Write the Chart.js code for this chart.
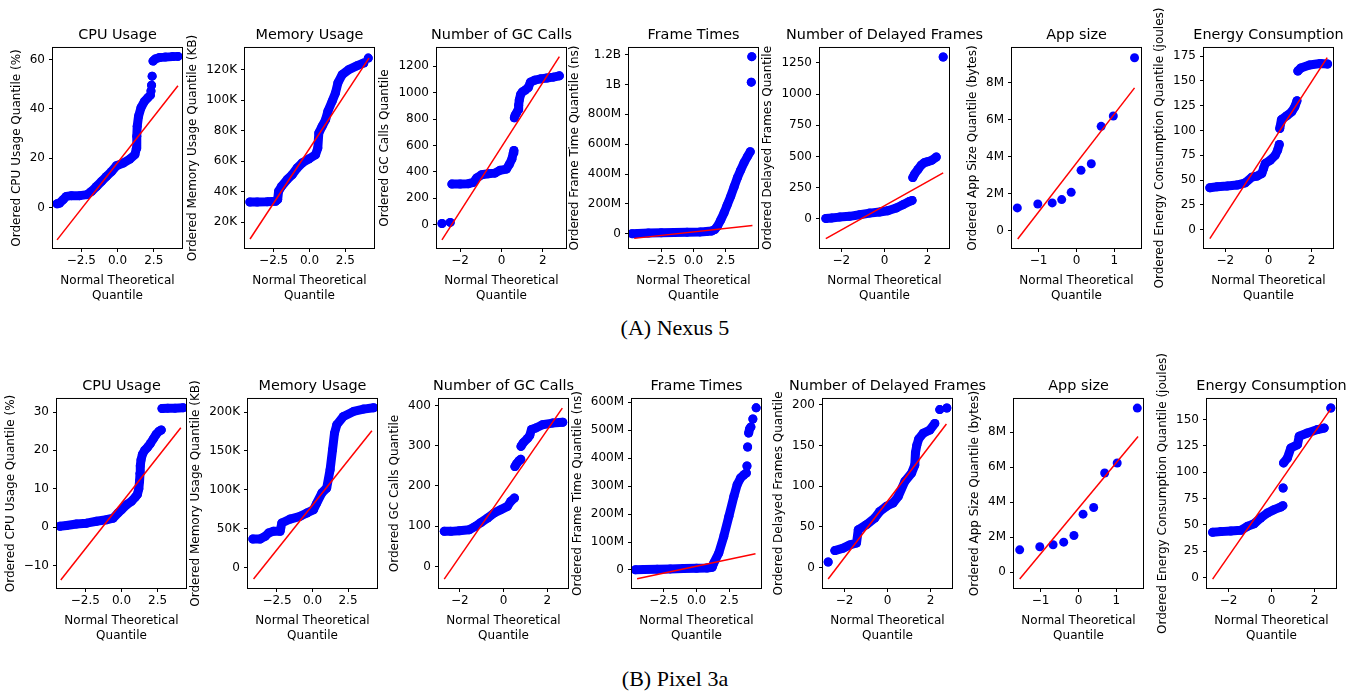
<!DOCTYPE html>
<html lang="en">
<head>
<meta charset="UTF-8">
<title>Q-Q plots: Nexus 5 and Pixel 3a</title>
<script src="https://cdn.jsdelivr.net/npm/chart.js"></script>
<style>
  html, body { margin: 0; padding: 0; background: #fff; }
  #page { position: relative; width: 1361px; height: 694px; overflow: hidden; }
  #page canvas { position: absolute; }
  .caption {
    position: absolute; left: 0; width: 1350px; text-align: center;
    font-family: "Liberation Serif", "DejaVu Serif", serif; font-size: 22px; line-height: 25px; color: #000;
  }
</style>
</head>
<body>
<div id="page">
  <div class="caption" style="top:315px">(A) Nexus 5</div>
  <div class="caption" style="top:666px">(B) Pixel 3a</div>
</div>
<script>
// theoretical quantile ticks
const qTicks25 = [-2.5, 0, 2.5];
const qLabels25 = ['\u22122.5', '0.0', '2.5'];
const qTicks2 = [-2, 0, 2];
const qLabels2 = ['\u22122', '0', '2'];
const qTicks1 = [-1, 0, 1];
const qLabels1 = ['\u22121', '0', '1'];

// ---------- (A) Nexus 5 ----------
const nexusCpuQ = [-4.17,-3.99,-3.76,-3.53,-3.18,-2.6,-2.1,-1.8,-1.45,-1.1,-0.76,-0.41,-0.07,0.39,0.85,1.2,1.3,1.33,1.36,1.45,1.62,1.85,2.1,2.27,null,2.31,null,2.35,null,2.39,null,2.45,2.6,2.9,3.3,3.8,4.17];
const nexusCpuV = [1.6,1.9,3.2,4.6,4.9,4.9,5.3,6.6,8.6,10.7,12.7,14.7,17,18.1,19.7,21.5,24,29,33,37,40.5,43,44.6,45.6,null,47.3,null,49.6,null,53.3,null,59.4,60.2,60.8,61,61.2,61.3];
const nexusCpuFitQ = [-4.17, 4.17];
const nexusCpuFitV = [-13.0, 49.4];
const nexusCpuTicks = [0, 20, 40, 60];
const nexusCpuLabels = ['0', '20', '40', '60'];

const nexusMemQ = [-4.16,-3.65,-2.95,-2.37,-2.22,-2.16,-1.95,-1.56,-1.21,-0.86,-0.51,-0.05,0.42,0.58,0.65,0.88,1.12,1.28,1.58,1.81,1.98,2.28,2.74,3.33,3.79,null,4.1];
const nexusMemV = [33300,33300,33500,33800,35000,40300,43600,48000,51200,55600,58900,61500,64300,68700,78500,82900,87200,92700,99300,104700,111300,116700,120000,122600,124400,null,127600];
const nexusMemFitQ = [-4.15, 4.15];
const nexusMemFitV = [9100, 127500];
const nexusMemTicks = [20000, 40000, 60000, 80000, 100000, 120000];
const nexusMemLabels = ['20K', '40K', '60K', '80K', '100K', '120K'];

const nexusGcQ = [-2.88,null,-2.48,null,-2.4,-2.0,-1.6,-1.36,-1.2,-0.96,-0.64,-0.32,-0.08,0.24,0.37,0.5,0.57,0.6,null,0.62,0.66,0.72,0.8,0.83,0.86,0.92,1.0,1.15,1.3,1.4,1.6,1.9,2.2,2.5,2.8];
const nexusGcV = [10,null,18,null,308,309,311,321,354,379,386,391,412,422,455,497,543,563,null,810,830,845,870,905,945,985,1005,1020,1040,1080,1095,1105,1112,1118,1128];
const nexusGcFitQ = [-2.88, 2.8];
const nexusGcFitV = [-114, 1273];
const nexusGcTicks = [0, 200, 400, 600, 800, 1000, 1200];
const nexusGcLabels = ['0', '200', '400', '600', '800', '1000', '1200'];

const nexusFrameQ = [-4.77,-4.3,-3.5,-2.5,-1.5,-0.5,0.5,1.0,1.4,1.65,1.86,2.1,2.37,2.6,2.89,3.15,3.4,3.65,3.92,4.2,4.4,null,4.48,null,4.52];
const nexusFrameV = [0,2e6,4e6,6e6,8e6,10e6,12e6,14e6,18e6,28e6,50e6,90e6,140e6,190e6,252e6,315e6,375e6,425e6,476e6,520e6,550e6,null,1016e6,null,1187e6];
const nexusFrameFitQ = [-4.6, 4.57];
const nexusFrameFitV = [-31.5e6, 55.6e6];
const nexusFrameTicks = [0, 2e8, 4e8, 6e8, 8e8, 1e9, 1.2e9];
const nexusFrameLabels = ['0', '200M', '400M', '600M', '800M', '1B', '1.2B'];

const nexusDelayedQ = [-2.72,-2.46,-2.08,-1.62,-1.15,-0.69,-0.23,0.15,0.54,0.85,1.15,1.28,null,1.31,1.4,1.55,1.7,1.85,2.0,2.2,2.4,null,2.72];
const nexusDelayedV = [2,5,13,19,32,45,54,64,86,112,139,147,null,330,360,395,430,450,458,470,495,null,1298];
const nexusDelayedFitQ = [-2.72, 2.72];
const nexusDelayedFitV = [-160, 368];
const nexusDelayedTicks = [0, 250, 500, 750, 1000, 1250];
const nexusDelayedLabels = ['0', '250', '500', '750', '1000', '1250'];

const nexusAppQ = [-1.56,-1.02,-0.64,-0.39,-0.14,0.12,0.39,0.65,0.97,1.53];
const nexusAppV = [1.23e6,1.44e6,1.5e6,1.68e6,2.07e6,3.26e6,3.62e6,5.64e6,6.2e6,9.35e6];
const nexusAppFitQ = [-1.55, 1.53];
const nexusAppFitV = [-0.45e6, 7.72e6];
const nexusAppTicks = [0, 2e6, 4e6, 6e6, 8e6];
const nexusAppLabels = ['0', '2M', '4M', '6M', '8M'];

const nexusEnergyQ = [-2.72,-2.38,-1.92,-1.46,-1.08,-0.77,-0.54,-0.31,-0.23,-0.15,0.08,0.31,0.42,0.5,null,0.52,0.6,0.85,1.08,1.22,1.32,null,1.36,1.5,1.9,2.4,2.74];
const nexusEnergyV = [42.3,43.3,44,45,47.3,53,54,56.7,61.7,66.7,70,75,80,86,null,102,111,115,119,124,130,null,160,163,166,167.5,167];
const nexusEnergyFitQ = [-2.72, 2.72];
const nexusEnergyFitV = [-9, 173.5];
const nexusEnergyTicks = [0, 25, 50, 75, 100, 125, 150, 175];
const nexusEnergyLabels = ['0', '25', '50', '75', '100', '125', '150', '175'];

// ---------- (B) Pixel 3a ----------
const pixelCpuQ = [-4.26,-3.8,-3.11,-2.42,-1.73,-1.04,-0.58,-0.23,0,0.35,0.69,0.95,1.1,1.2,1.25,1.28,1.3,1.35,1.45,1.6,1.8,2.0,2.2,2.4,2.6,2.75,null,2.8,3.2,3.7,4.26];
const pixelCpuV = [0.2,0.4,0.8,1.0,1.5,1.9,2.3,3.7,4.5,5.8,6.7,7.8,8.5,10,12,14,16,17.5,19,20,20.8,21.8,23,24.2,25,25.3,null,30.9,31,31,31.1];
const pixelCpuFitQ = [-4.2, 4.1];
const pixelCpuFitV = [-13.8, 25.9];
const pixelCpuTicks = [-10, 0, 10, 20, 30];
const pixelCpuLabels = ['\u221210', '0', '10', '20', '30'];

const pixelMemQ = [-4.2,-3.69,-3.33,-3.1,-2.75,-2.28,-2.16,-1.57,-0.87,-0.4,0.07,0.3,0.66,1.0,1.24,1.41,1.55,1.71,2.18,2.89,3.59,4.3];
const pixelMemV = [36800,36800,40300,44500,46700,46700,57400,62500,66000,70200,74500,83000,96000,102400,126000,151600,173000,183700,194400,200800,203800,205600];
const pixelMemFitQ = [-4.15, 4.18];
const pixelMemFitV = [-14600, 176000];
const pixelMemTicks = [0, 50000, 100000, 150000, 200000];
const pixelMemLabels = ['0', '50K', '100K', '150K', '200K'];

const pixelGcQ = [-2.71,-2.4,-2.02,-1.57,-1.29,-1.03,-0.73,-0.43,-0.12,0.18,0.33,0.5,null,0.52,0.6,0.7,0.79,null,0.8,0.9,1.1,1.2,1.28,1.48,1.78,2.24,2.71];
const pixelGcV = [87,87,88.6,91,99.4,109,120,132.5,141,149,161.5,170,null,248,255,262,266,null,298,307,318,325,340,344,352,356,358];
const pixelGcFitQ = [-2.71, 2.69];
const pixelGcFitV = [-31.5, 393];
const pixelGcTicks = [0, 100, 200, 300, 400];
const pixelGcLabels = ['0', '100', '200', '300', '400'];

const pixelFrameQ = [-4.66,-4.0,-3.0,-2.0,-1.0,0,0.8,1.2,1.32,1.7,2.08,2.47,2.85,3.1,3.36,3.6,3.8,null,3.85,null,3.9,null,3.98,4.05,4.15,null,4.3,null,4.55];
const pixelFrameV = [1e6,2e6,3e6,4e6,5e6,6e6,7e6,10e6,25e6,61e6,120e6,192e6,263e6,305e6,329e6,340e6,347e6,null,372e6,null,440e6,null,490e6,505e6,512e6,null,540e6,null,580e6];
const pixelFrameFitQ = [-4.53, 4.5];
const pixelFrameFitV = [-31e6, 58e6];
const pixelFrameTicks = [0, 1e8, 2e8, 3e8, 4e8, 5e8, 6e8];
const pixelFrameLabels = ['0', '100M', '200M', '300M', '400M', '500M', '600M'];

const pixelDelayedQ = [-2.76,null,-2.45,-2.06,-1.75,-1.44,-1.36,-0.98,-0.59,-0.36,-0.05,0.26,0.5,0.81,1.12,1.27,1.3,1.36,1.45,1.66,1.97,2.2,null,2.43,null,2.76];
const pixelDelayedV = [7,null,21,24,28,30.3,46.6,52.8,61,69,75.3,79.3,87.5,106,116,126,141,150,158,165,169,177,null,194,null,196];
const pixelDelayedFitQ = [-2.76, 2.74];
const pixelDelayedFitV = [-13.9, 176.3];
const pixelDelayedTicks = [0, 50, 100, 150, 200];
const pixelDelayedLabels = ['0', '50', '100', '150', '200'];

const pixelAppQ = [-1.55,-1.02,-0.67,-0.39,-0.12,0.12,0.4,0.69,1.02,1.55];
const pixelAppV = [1.27e6,1.45e6,1.56e6,1.71e6,2.09e6,3.31e6,3.69e6,5.66e6,6.23e6,9.37e6];
const pixelAppFitQ = [-1.55, 1.57];
const pixelAppFitV = [-0.4e6, 7.75e6];
const pixelAppTicks = [0, 2e6, 4e6, 6e6, 8e6];
const pixelAppLabels = ['0', '2M', '4M', '6M', '8M'];

const pixelEnergyQ = [-2.74,-2.36,-1.89,-1.43,-1.12,-0.81,-0.5,-0.19,0.12,0.43,0.53,null,0.54,null,0.56,0.74,0.9,1.21,1.29,1.67,2.14,2.45,null,2.76];
const pixelEnergyV = [42.8,43.5,44.1,44.7,48.5,51,56.5,61.2,64.4,66.9,68.2,null,85,null,108.8,113.5,123,126.2,134.2,137.3,140.5,142,null,161];
const pixelEnergyFitQ = [-2.74, 2.76];
const pixelEnergyFitV = [-1.6, 160.2];
const pixelEnergyTicks = [0, 25, 50, 75, 100, 125, 150];
const pixelEnergyLabels = ['0', '25', '50', '75', '100', '125', '150'];

// ---------- layout ----------
const FONT = "'DejaVu Sans', sans-serif";
const INK = '#000';
const rowTop = [48, 399];
const rowH = [200, 189];
const colLeft = [[53, 245, 437, 629, 820, 1012, 1204], [57, 248, 439, 632, 823, 1014, 1207]];
const BOX_W = 129;
const SIDE = 75;   // room left, mirrored on the right so the title stays centred on the axes
const TOP = 60;
const BOT = 62;

const panels = [
  {row: 0, col: 0, title: 'CPU Usage', ylab: 'Ordered CPU Usage Quantile (%)', q: nexusCpuQ, v: nexusCpuV, fq: nexusCpuFitQ, fv: nexusCpuFitV, xr: [-4.45, 4.45], yr: [-16.3, 64.7], xt: qTicks25, xl: qLabels25, yt: nexusCpuTicks, yl: nexusCpuLabels, band: true},
  {row: 0, col: 1, title: 'Memory Usage', ylab: 'Ordered Memory Usage Quantile (KB)', q: nexusMemQ, v: nexusMemV, fq: nexusMemFitQ, fv: nexusMemFitV, xr: [-4.5, 4.5], yr: [3200, 134200], xt: qTicks25, xl: qLabels25, yt: nexusMemTicks, yl: nexusMemLabels, band: true},
  {row: 0, col: 2, title: 'Number of GC Calls', ylab: 'Ordered GC Calls Quantile', q: nexusGcQ, v: nexusGcV, fq: nexusGcFitQ, fv: nexusGcFitV, xr: [-3.12, 3.12], yr: [-176, 1339], xt: qTicks2, xl: qLabels2, yt: nexusGcTicks, yl: nexusGcLabels, band: true},
  {row: 0, col: 3, title: 'Frame Times', ylab: 'Ordered Frame Time Quantile (ns)', q: nexusFrameQ, v: nexusFrameV, fq: nexusFrameFitQ, fv: nexusFrameFitV, xr: [-5.0, 5.0], yr: [-96e6, 1.245e9], xt: qTicks25, xl: qLabels25, yt: nexusFrameTicks, yl: nexusFrameLabels, band: true},
  {row: 0, col: 4, title: 'Number of Delayed Frames', ylab: 'Ordered Delayed Frames Quantile', q: nexusDelayedQ, v: nexusDelayedV, fq: nexusDelayedFitQ, fv: nexusDelayedFitV, xr: [-2.99, 2.99], yr: [-235, 1370], xt: qTicks2, xl: qLabels2, yt: nexusDelayedTicks, yl: nexusDelayedLabels, band: true},
  {row: 0, col: 5, title: 'App size', ylab: 'Ordered App Size Quantile (bytes)', q: nexusAppQ, v: nexusAppV, fq: nexusAppFitQ, fv: nexusAppFitV, xr: [-1.7, 1.7], yr: [-0.94e6, 9.88e6], xt: qTicks1, xl: qLabels1, yt: nexusAppTicks, yl: nexusAppLabels, band: false},
  {row: 0, col: 6, title: 'Energy Consumption', ylab: 'Ordered Energy Consumption Quantile (joules)', q: nexusEnergyQ, v: nexusEnergyV, fq: nexusEnergyFitQ, fv: nexusEnergyFitV, xr: [-2.99, 2.99], yr: [-18.4, 183.2], xt: qTicks2, xl: qLabels2, yt: nexusEnergyTicks, yl: nexusEnergyLabels, band: true},
  {row: 1, col: 0, title: 'CPU Usage', ylab: 'Ordered CPU Usage Quantile (%)', q: pixelCpuQ, v: pixelCpuV, fq: pixelCpuFitQ, fv: pixelCpuFitV, xr: [-4.46, 4.46], yr: [-15.9, 33.4], xt: qTicks25, xl: qLabels25, yt: pixelCpuTicks, yl: pixelCpuLabels, band: true},
  {row: 1, col: 1, title: 'Memory Usage', ylab: 'Ordered Memory Usage Quantile (KB)', q: pixelMemQ, v: pixelMemV, fq: pixelMemFitQ, fv: pixelMemFitV, xr: [-4.54, 4.54], yr: [-26100, 216800], xt: qTicks25, xl: qLabels25, yt: pixelMemTicks, yl: pixelMemLabels, band: true},
  {row: 1, col: 2, title: 'Number of GC Calls', ylab: 'Ordered GC Calls Quantile', q: pixelGcQ, v: pixelGcV, fq: pixelGcFitQ, fv: pixelGcFitV, xr: [-2.95, 2.95], yr: [-53.7, 415.9], xt: qTicks2, xl: qLabels2, yt: pixelGcTicks, yl: pixelGcLabels, band: true},
  {row: 1, col: 3, title: 'Frame Times', ylab: 'Ordered Frame Time Quantile (ns)', q: pixelFrameQ, v: pixelFrameV, fq: pixelFrameFitQ, fv: pixelFrameFitV, xr: [-4.92, 4.92], yr: [-64.4e6, 611.8e6], xt: qTicks25, xl: qLabels25, yt: pixelFrameTicks, yl: pixelFrameLabels, band: true},
  {row: 1, col: 4, title: 'Number of Delayed Frames', ylab: 'Ordered Delayed Frames Quantile', q: pixelDelayedQ, v: pixelDelayedV, fq: pixelDelayedFitQ, fv: pixelDelayedFitV, xr: [-3.0, 3.0], yr: [-24.9, 207], xt: qTicks2, xl: qLabels2, yt: pixelDelayedTicks, yl: pixelDelayedLabels, band: true},
  {row: 1, col: 5, title: 'App size', ylab: 'Ordered App Size Quantile (bytes)', q: pixelAppQ, v: pixelAppV, fq: pixelAppFitQ, fv: pixelAppFitV, xr: [-1.7, 1.7], yr: [-0.91e6, 9.89e6], xt: qTicks1, xl: qLabels1, yt: pixelAppTicks, yl: pixelAppLabels, band: false},
  {row: 1, col: 6, title: 'Energy Consumption', ylab: 'Ordered Energy Consumption Quantile (joules)', q: pixelEnergyQ, v: pixelEnergyV, fq: pixelEnergyFitQ, fv: pixelEnergyFitV, xr: [-3.0, 3.0], yr: [-10.1, 169.6], xt: qTicks2, xl: qLabels2, yt: pixelEnergyTicks, yl: pixelEnergyLabels, band: true}
];

// matplotlib-style closed frame around the axes
const frameBox = {
  id: 'frameBox',
  afterDatasetsDraw(chart) {
    const a = chart.chartArea, ctx = chart.ctx;
    ctx.save();
    ctx.strokeStyle = INK;
    ctx.lineWidth = 1;
    ctx.strokeRect(a.left - 0.5, a.top - 0.5, a.right - a.left + 1, a.bottom - a.top + 1);
    ctx.restore();
  }
};

const measure = document.createElement('canvas').getContext('2d');
measure.font = '12px ' + FONT;
const page = document.getElementById('page');

function drawPanel(p) {
  const left = colLeft[p.row][p.col], top = rowTop[p.row], h = rowH[p.row];
  const cv = document.createElement('canvas');
  cv.width = SIDE + BOX_W + SIDE;
  cv.height = TOP + h + BOT;
  cv.style.left = (left - SIDE) + 'px';
  cv.style.top = (top - TOP) + 'px';
  page.appendChild(cv);

  // y label sits just left of the widest tick label, as matplotlib does
  const widest = Math.max(...p.yl.map(s => measure.measureText(s).width));
  const yTitlePad = Math.max(0, SIDE - widest - 28.5);

  const pts = p.q.map((q, i) => ({x: q, y: p.v[i]}));
  const fit = p.fq.map((q, i) => ({x: q, y: p.fv[i]}));
  const tickFont = {family: FONT, size: 12};

  new Chart(cv, {
    type: 'scatter',
    data: {
      datasets: [
        {data: fit, xAxisID: 'x', yAxisID: 'y', showLine: true, borderColor: '#ff0000', borderWidth: 1.5, pointRadius: 0, order: 0},
        {data: pts, xAxisID: 'x', yAxisID: 'y', showLine: p.band, borderColor: '#0000ff', borderWidth: 9,
         borderCapStyle: 'round', borderJoinStyle: 'round',
         pointRadius: 4.5, pointBackgroundColor: '#0000ff', pointBorderWidth: 0, order: 1}
      ]
    },
    options: {
      responsive: false,
      animation: false,
      devicePixelRatio: 1,
      plugins: {
        legend: {display: false},
        tooltip: {enabled: false},
        title: {
          display: true, text: p.title, color: INK,
          font: {family: FONT, size: 14.4, weight: 'normal', lineHeight: 1.2},
          padding: {top: 38.8, bottom: 3.9}
        }
      },
      scales: {
        x: {
          type: 'linear', min: p.xr[0], max: p.xr[1],
          afterFit: s => { s.height = BOT; },
          afterBuildTicks: s => { s.ticks = p.xt.map(v => ({value: v})); },
          ticks: {callback: (v, i) => p.xl[i], font: tickFont, color: INK, padding: 2, maxRotation: 0, autoSkip: false},
          grid: {display: true, drawOnChartArea: false, drawTicks: true, tickLength: 4, color: INK, lineWidth: 1},
          border: {display: false},
          title: {display: true, text: ['Normal Theoretical', 'Quantile'], color: INK,
                  font: {family: FONT, size: 12, lineHeight: 1.25}, padding: {top: 0, bottom: 6.5}}
        },
        y: {
          type: 'linear', position: 'left', min: p.yr[0], max: p.yr[1],
          afterFit: s => { s.width = SIDE; },
          afterBuildTicks: s => { s.ticks = p.yt.map(v => ({value: v})); },
          ticks: {callback: (v, i) => p.yl[i], font: tickFont, color: INK, padding: 4, autoSkip: false},
          grid: {display: true, drawOnChartArea: false, drawTicks: true, tickLength: 4, color: INK, lineWidth: 1},
          border: {display: false},
          title: {display: true, text: p.ylab, color: INK,
                  font: {family: FONT, size: 12, lineHeight: 1.2}, padding: {top: yTitlePad, bottom: 0}}
        },
        // empty spacer on the right, same width as the left axis
        spacer: {
          type: 'linear', axis: 'y', position: 'right', min: 0, max: 1,
          afterFit: s => { s.width = SIDE; },
          ticks: {display: false},
          grid: {display: false},
          border: {display: false}
        }
      }
    },
    plugins: [frameBox]
  });
}

panels.forEach(drawPanel);
</script>
</body>
</html>
